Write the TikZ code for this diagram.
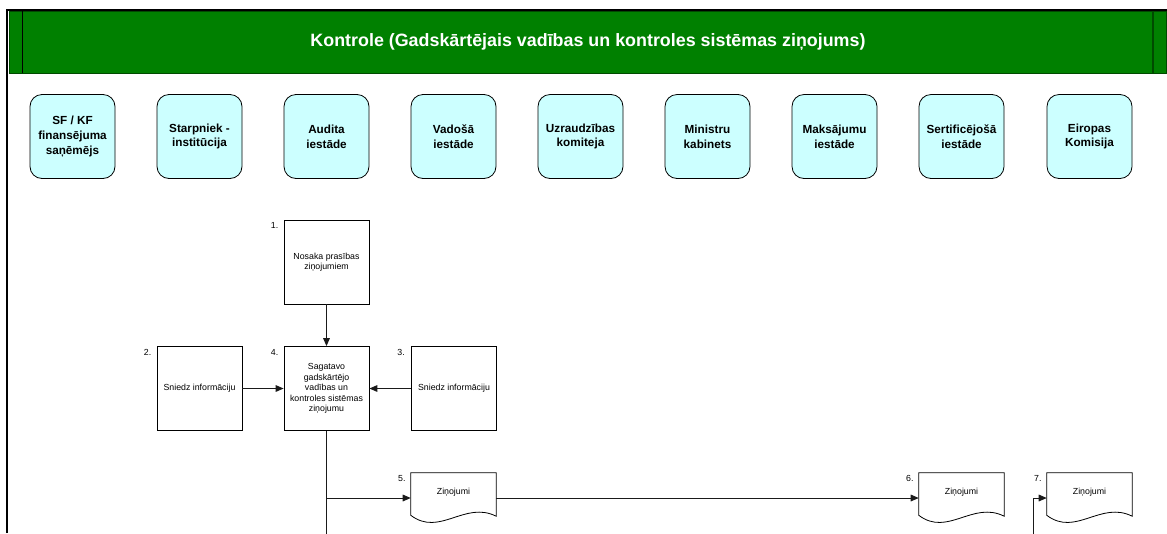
\documentclass[tikz,border=0pt]{standalone}
\usepackage{fontspec}
\setmainfont{Liberation Sans}
\usetikzlibrary{arrows.meta,calc}
\definecolor{hdrgreen}{HTML}{008000}
\definecolor{hdrdark}{HTML}{004A00}
\definecolor{lanecyan}{HTML}{CCFFFF}
\definecolor{linegray}{HTML}{1A1A1A}
\newcommand\docoutline[1]{%
  \draw[docline] (#1.south west) -- (#1.north west) -- (#1.north east) -- ($(#1.south east)+(0,1)$)
    .. controls ($(#1.south west)+(54,-15)$) and ($(#1.south west)+(29,22)$) .. (#1.south west) -- cycle;}
\begin{document}
\begin{tikzpicture}[x=0.75pt,y=-0.75pt,
  lanebox/.style={draw=black, line width=0.6pt, fill=lanecyan, rounded corners=9pt,
    minimum width=63.75pt, minimum height=63pt, align=center, inner sep=0pt,
    font=\fontsize{8.8}{11}\selectfont\bfseries},
  procbox/.style={draw=black, line width=0.6pt, fill=white, minimum width=63.75pt,
    minimum height=63pt, align=center, inner sep=0pt,
    font=\fontsize{6.6}{7.8}\selectfont},
  docnode/.style={minimum width=63.75pt, minimum height=31.5pt, inner sep=0pt,
    text height=5pt, text depth=5pt, font=\fontsize{6.6}{7.8}\selectfont},
  docline/.style={draw=black, line width=0.6pt},
  numlabel/.style={anchor=east, inner sep=0pt, font=\fontsize{6.6}{7.8}\selectfont},
  conn/.style={draw=linegray, line width=0.75pt, -{Triangle[length=6pt,width=5pt]}},
  plainline/.style={draw=linegray, line width=0.75pt},
  titletext/.style={text=white, font=\fontsize{13.4}{15}\selectfont\bfseries, inner sep=0pt}
]
\useasboundingbox (0,0) rectangle (1167,533);
\fill[white] (0,0) rectangle (1167,533);
% header band
\draw[hdrdark, fill=hdrgreen, line width=0.75pt] (9,11) rectangle (1166,73);
\draw[black, line width=0.75pt] (22,11) -- (22,73);
\draw[hdrdark, line width=0.9pt] (1153,11) -- (1153,73);
\draw[black, line width=1.6pt] (7,533) -- (7,9.6) -- (1167,9.6);
\node[titletext] (title) at (588,42) {Kontrole (Gadskārtējais vadības un kontroles sistēmas ziņojums)};
% lanes
\node[lanebox] (l1) at (72.5,136.5) {SF / KF\\finansējuma\\saņēmējs};
\node[lanebox] (l2) at (199.5,136.5) {Starpniek -\\institūcija};
\node[lanebox] (l3) at (326.5,136.5) {Audita\\iestāde};
\node[lanebox] (l4) at (453.5,136.5) {Vadošā\\iestāde};
\node[lanebox] (l5) at (580.5,136.5) {Uzraudzības\\komiteja};
\node[lanebox] (l6) at (707.5,136.5) {Ministru\\kabinets};
\node[lanebox] (l7) at (834.5,136.5) {Maksājumu\\iestāde};
\node[lanebox] (l8) at (961.5,136.5) {Sertificējošā\\iestāde};
\node[lanebox] (l9) at (1089.5,136.5) {Eiropas\\Komisija};
% process boxes
\node[procbox] (p1) at (326.5,262) {Nosaka prasības\\ziņojumiem};
\node[procbox] (p2) at (199.5,388.5) {Sniedz informāciju};
\node[procbox] (p4) at (326.5,388.5) {Sagatavo\\gadskārtējo\\vadības un\\kontroles sistēmas\\ziņojumu};
\node[procbox] (p3) at (454,388.5) {Sniedz informāciju};
% documents
\node[docnode] (d5) at (453.5,494) {Ziņojumi};
\node[docnode] (d6) at (961.5,494) {Ziņojumi};
\node[docnode] (d7) at (1089.5,494) {Ziņojumi};
\docoutline{d5}
\docoutline{d6}
\docoutline{d7}
% number labels
\node[numlabel] (n1) at ($(p1.north west)+(-5,6)$) {1.};
\node[numlabel] (n2) at ($(p2.north west)+(-5,6)$) {2.};
\node[numlabel] (n4) at ($(p4.north west)+(-5,6)$) {4.};
\node[numlabel] (n3) at ($(p3.north west)+(-6,6)$) {3.};
\node[numlabel] (n5) at ($(d5.north west)+(-5,6)$) {5.};
\node[numlabel] (n6) at ($(d6.north west)+(-5,6)$) {6.};
\node[numlabel] (n7) at ($(d7.north west)+(-5,6)$) {7.};
% connectors
\draw[conn] (p1) -- (p4);
\draw[conn] (p2) -- (p4);
\draw[conn] (p3) -- (p4);
\coordinate (trunkend) at (326.5,534);
\coordinate (d7src) at (1033,534);
\coordinate (d5in) at ($(d5.west)+(0,4)$);
\coordinate (d5out) at ($(d5.east)+(0,4)$);
\coordinate (d6in) at ($(d6.west)+(0,4)$);
\coordinate (d7in) at ($(d7.west)+(0,4)$);
\draw[plainline] (p4.south) -- (trunkend);
\draw[conn] (p4.south |- d5in) -- (d5in);
\draw[conn] (d5out) -- (d6in);
\draw[conn] (d7src) |- (d7in);
\end{tikzpicture}
\end{document}
